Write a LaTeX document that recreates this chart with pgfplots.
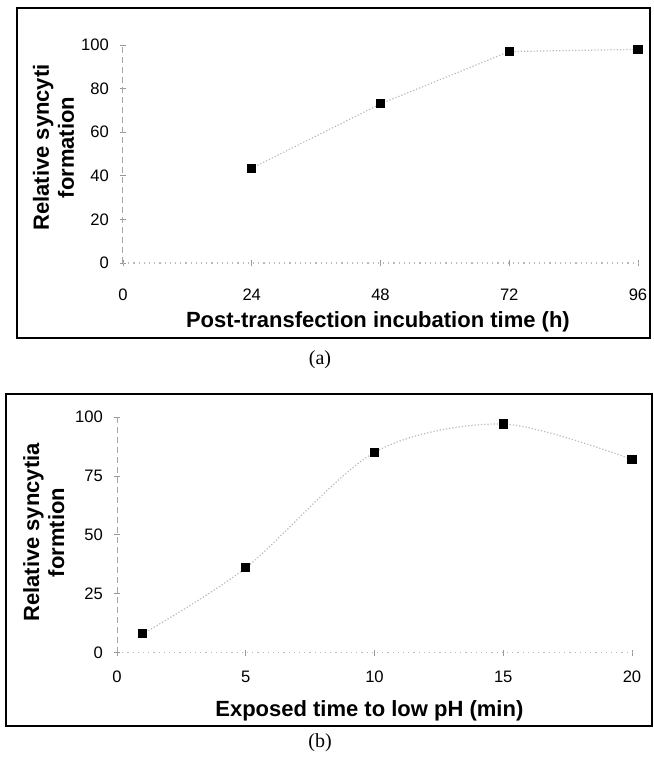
\documentclass[border=0pt]{standalone}
\usepackage{fontspec}
\setmainfont{Liberation Serif}
\newfontfamily\arial{Liberation Sans}
\usepackage{pgfplots}
\pgfplotsset{compat=1.18}

\tikzset{
  lbl/.style={font=\arial\bfseries\fontsize{11}{12.5}\selectfont, align=center, anchor=center},
}
\pgfplotsset{
  scanpanel/.style={
    scale only axis, width=257.5pt, clip=false,
    axis lines*=left,
    y axis line style={gray!70, densely dashed, line width=0.5pt},
    x axis line style={gray!55, dotted, line width=0.6pt},
    tick style={gray!80, line width=0.4pt},
    major tick length=3pt, tick align=center,
    tick label style={font=\arial\fontsize{8.3}{9}\selectfont},
    /pgf/number format/assume math mode=true,
  },
  dots/.style={gray!55, densely dotted, line width=0.6pt,
    mark=square*, mark size=2pt,
    mark options={black, solid, fill=black}},
}

\begin{document}
\begin{tikzpicture}
\begin{scope}[x=0.5pt, y=-0.5pt]
  \path[use as bounding box] (0,0) rectangle (654,767);
  \draw[line width=0.8pt] (17,8) rectangle (650,338);
  \draw[line width=0.8pt] (6,394) rectangle (652,726);
  \node[font=\fontsize{10}{12}\selectfont] at (320,360) {(a)};
  \node[font=\fontsize{10}{12}\selectfont] at (320,743) {(b)};
\end{scope}

% panel (a)
\begin{axis}[scanpanel,
    at={(61.5pt,-131.5pt)}, anchor=south west,
    height=109pt,
    xmin=0, xmax=96, ymin=0, ymax=100,
    xtick={0,24,48,72,96}, ytick={0,20,40,60,80,100},
    xticklabel style={yshift=-8pt},
    yticklabel style={xshift=-2pt},
    xlabel={Post-transfection incubation time (h)},
    ylabel={Relative syncyti\\formation},
    xlabel style={lbl, at={(axis description cs:0.495,-0.27)}},
    ylabel style={lbl, at={(axis description cs:-0.135,0.53)}},
]
\addplot[dots] coordinates {(24,43.5) (48,73) (72,97) (96,98)};
\end{axis}

% panel (b)
\begin{axis}[scanpanel,
    at={(58.5pt,-326.35pt)}, anchor=south west,
    height=117.85pt,
    xmin=0, xmax=20, ymin=0, ymax=100,
    xtick={0,5,10,15,20}, ytick={0,25,50,75,100},
    xticklabel style={yshift=-4pt},
    yticklabel style={xshift=-2pt},
    xlabel={Exposed time to low pH (min)},
    ylabel={Relative syncytia\\formtion},
    xlabel style={lbl, at={(axis description cs:0.49,-0.245)}},
    ylabel style={lbl, at={(axis description cs:-0.142,0.51)}},
]
\addplot[dots, smooth] coordinates {(1,8) (5,36) (10,85) (15,97) (20,82)};
\end{axis}
\end{tikzpicture}
\end{document}
